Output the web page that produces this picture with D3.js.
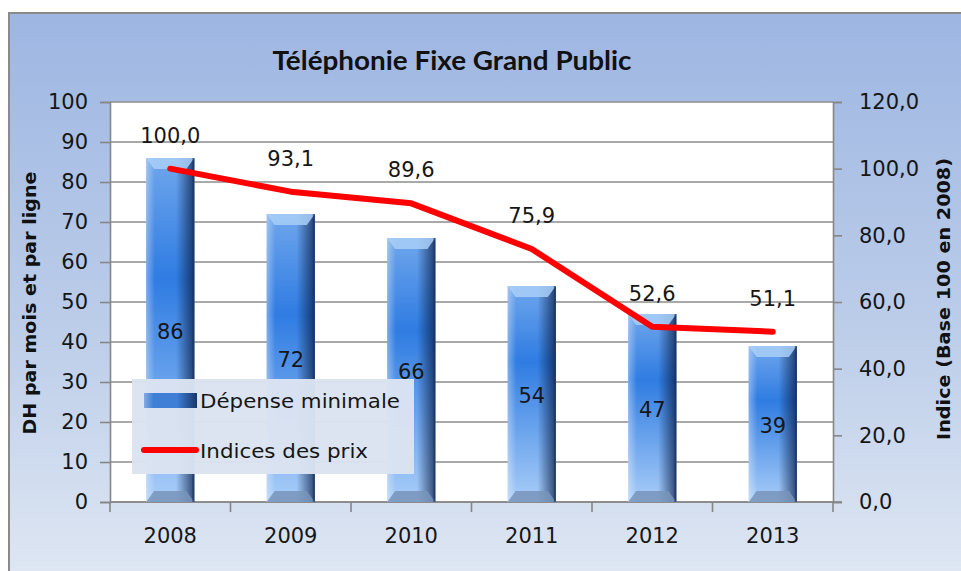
<!DOCTYPE html>
<html><head><meta charset="utf-8">
<script src="https://cdn.jsdelivr.net/npm/d3@7"></script>
<style>html,body{margin:0;padding:0;background:#fff;}svg{display:block;}</style>
</head><body>
<script>
const categories = ["2008","2009","2010","2011","2012","2013"];
const depense = [86,72,66,54,47,39];
const indices = [100.0,93.1,89.6,75.9,52.6,51.1];
const leftTicks = [0,10,20,30,40,50,60,70,80,90,100];
const rightTicks = [0,20,40,60,80,100,120];
const title = "Téléphonie Fixe Grand Public";
const leftTitle = "DH par mois et par ligne";
const rightTitle = "Indice  (Base  100 en 2008)";
const legendLabels = ["Dépense minimale","Indices des prix"];

const W = 961, H = 571;
const svg = d3.select("body").append("svg").attr("width",W).attr("height",H);
const defs = svg.append("defs");

const bg = defs.append("linearGradient").attr("id","bg").attr("x1",0).attr("y1",0).attr("x2",0).attr("y2",1);
bg.append("stop").attr("offset","0%").attr("stop-color","#9db6e2");
bg.append("stop").attr("offset","55%").attr("stop-color","#bccde9");
bg.append("stop").attr("offset","100%").attr("stop-color","#dfe7f3");

const bv = defs.append("linearGradient").attr("id","barV").attr("x1",0).attr("y1",0).attr("x2",0).attr("y2",1);
bv.append("stop").attr("offset","0%").attr("stop-color","#6fa6ec");
bv.append("stop").attr("offset","35%").attr("stop-color","#2f7ce2");
bv.append("stop").attr("offset","100%").attr("stop-color","#a9cdf8");

const bh = defs.append("linearGradient").attr("id","barH").attr("x1",0).attr("y1",0).attr("x2",1).attr("y2",0);
bh.append("stop").attr("offset","0%").attr("stop-color","#ffffff").attr("stop-opacity",0.35);
bh.append("stop").attr("offset","18%").attr("stop-color","#ffffff").attr("stop-opacity",0);
bh.append("stop").attr("offset","62%").attr("stop-color","#0a1e45").attr("stop-opacity",0);
bh.append("stop").attr("offset","100%").attr("stop-color","#0a1e45").attr("stop-opacity",0.75);

// frame
svg.append("rect").attr("x",9).attr("y",13).attr("width",W).attr("height",H)
  .attr("fill","url(#bg)").attr("stroke","#8a8a8a").attr("stroke-width",2);

const plot = {l:110, r:833, t:102, b:502};
const x = d3.scaleBand().domain(categories).range([plot.l, plot.r]).paddingInner(0).paddingOuter(0);
const yL = d3.scaleLinear().domain([0,100]).range([plot.b, plot.t]);
const yR = d3.scaleLinear().domain([0,120]).range([plot.b, plot.t]);
const fmt1 = v => d3.format(".1f")(v).replace(".", ",");
const font = "'DejaVu Sans', Verdana, sans-serif";
const txt = "#161616";

svg.append("rect").attr("x",plot.l).attr("y",plot.t).attr("width",plot.r-plot.l).attr("height",plot.b-plot.t).attr("fill","#fff");

// gridlines
svg.append("g").selectAll("line").data(leftTicks).join("line")
  .attr("x1",plot.l).attr("x2",plot.r).attr("y1",d=>yL(d)).attr("y2",d=>yL(d))
  .attr("stroke","#8c8c8c").attr("stroke-width",1.3);

// left axis
const gL = svg.append("g").attr("transform",`translate(${plot.l},0)`)
  .call(d3.axisLeft(yL).tickValues(leftTicks).tickSize(10).tickPadding(12).tickFormat(d3.format("d")));
// right axis
const gR = svg.append("g").attr("transform",`translate(${plot.r},0)`)
  .call(d3.axisRight(yR).tickValues(rightTicks).tickSize(9).tickPadding(17).tickFormat(fmt1));
// bottom axis
const gB = svg.append("g").attr("transform",`translate(0,${plot.b})`)
  .call(d3.axisBottom(x).tickSize(0).tickPadding(26));
[gL,gR,gB].forEach(g=>{
  g.select(".domain").attr("stroke","#868686").attr("stroke-width",1.6);
  g.selectAll(".tick line").attr("stroke","#868686").attr("stroke-width",1.6);
  g.selectAll("text").attr("fill",txt).style("font-family",font).style("font-size","21px");
});
gB.select(".domain").remove();
// category separator ticks on x axis
const bounds = d3.range(categories.length+1).map(i => plot.l + i*x.step());
svg.append("g").selectAll("line").data(bounds).join("line")
  .attr("x1",d=>d).attr("x2",d=>d).attr("y1",plot.b).attr("y2",plot.b+10)
  .attr("stroke","#868686").attr("stroke-width",1.6);
svg.append("line").attr("x1",plot.l).attr("x2",plot.r+9).attr("y1",plot.b).attr("y2",plot.b)
  .attr("stroke","#868686").attr("stroke-width",1.6);

// bars
const bw = x.step()*0.4;
const bevel = 11, side = 8;
const bars = svg.append("g").selectAll("g").data(categories.map((c,i)=>({c, v:depense[i]}))).join("g");
bars.each(function(d){
  const g = d3.select(this);
  const x0 = x(d.c) + (x.step()-bw)/2, x1 = x0 + bw;
  const y0 = yL(d.v), y1 = yL(0);
  g.append("rect").attr("x",x0).attr("y",y0).attr("width",bw).attr("height",y1-y0).attr("fill","url(#barV)");
  g.append("rect").attr("x",x0).attr("y",y0).attr("width",bw).attr("height",y1-y0).attr("fill","url(#barH)");
  // top bevel
  g.append("path").attr("d",`M${x0},${y0}L${x1},${y0}L${x1-side},${y0+bevel}L${x0+side},${y0+bevel}Z`)
    .attr("fill","#a9cff8").attr("opacity",0.85);
  // bottom bevel
  g.append("path").attr("d",`M${x0},${y1}L${x1},${y1}L${x1-side},${y1-bevel}L${x0+side},${y1-bevel}Z`)
    .attr("fill","#7894ba").attr("opacity",0.85);
  // right edge dark line
  g.append("rect").attr("x",x1-2).attr("y",y0).attr("width",2).attr("height",y1-y0).attr("fill","#1d355f").attr("opacity",0.6);
  g.append("text").attr("x",x0+bw/2).attr("y",(y0+y1)/2+9).attr("text-anchor","middle")
    .style("font-family",font).style("font-size","21px").attr("fill",txt).text(d.v);
});

// line
const pts = categories.map((c,i)=>[x(c)+x.bandwidth()/2, yR(indices[i]), indices[i]]);
svg.append("path").attr("d",d3.line()(pts.map(p=>[p[0],p[1]])))
  .attr("fill","none").attr("stroke","#ff0000").attr("stroke-width",6).attr("stroke-linejoin","round").attr("stroke-linecap","round");
svg.append("g").selectAll("text").data(pts).join("text")
  .attr("x",p=>p[0]).attr("y",p=>p[1]-26).attr("text-anchor","middle")
  .style("font-family",font).style("font-size","21px").attr("fill",txt).text(p=>fmt1(p[2]));

// legend
const lg = svg.append("g");
lg.append("rect").attr("x",132).attr("y",379).attr("width",282).attr("height",95).attr("fill","#dbe3f1").attr("opacity",0.97);
lg.append("rect").attr("x",144).attr("y",393).attr("width",53).attr("height",15).attr("fill","#3f7fd6");
lg.append("rect").attr("x",144).attr("y",393).attr("width",53).attr("height",15).attr("fill","url(#barH)");
lg.append("line").attr("x1",144).attr("x2",196).attr("y1",450).attr("y2",450).attr("stroke","#ff0000").attr("stroke-width",6).attr("stroke-linecap","round");
lg.selectAll("text.lt").data(legendLabels).join("text").attr("class","lt")
  .attr("x",200).attr("y",(d,i)=>i===0?408:458)
  .attr("textLength",(d,i)=>i===0?200:168).attr("lengthAdjust","spacingAndGlyphs")
  .style("font-family",font).style("font-size","20px").attr("fill",txt).text(d=>d);

// titles
svg.append("text").attr("x",452).attr("y",70).attr("text-anchor","middle")
  .attr("textLength",359).attr("lengthAdjust","spacingAndGlyphs")
  .style("font-family","Lato, 'Open Sans', sans-serif").style("font-weight","bold").style("font-size","26px")
  .attr("fill","#111").text(title);
svg.append("text").attr("transform","translate(36,303) rotate(-90)").attr("text-anchor","middle")
  .attr("textLength",263).attr("lengthAdjust","spacingAndGlyphs")
  .style("font-family",font).style("font-weight","bold").style("font-size","18px")
  .attr("fill","#111").text(leftTitle);
svg.append("text").attr("transform","translate(950,299) rotate(-90)").attr("text-anchor","middle")
  .attr("textLength",282).attr("lengthAdjust","spacingAndGlyphs")
  .style("font-family",font).style("font-weight","bold").style("font-size","18px")
  .attr("fill","#111").text(rightTitle);
</script>
</body></html>
